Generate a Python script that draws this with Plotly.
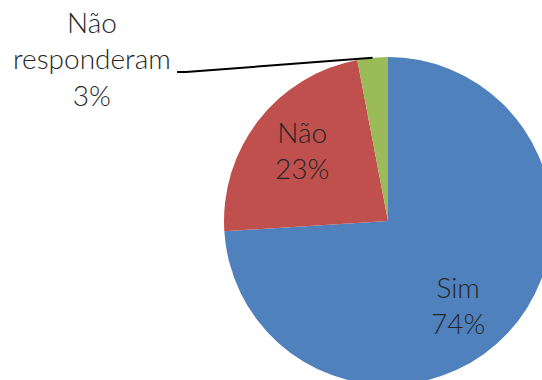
import math
import plotly.graph_objects as go

# Survey answers
labels = ["Sim", "Não", "Não responderam"]
values = [74, 23, 3]
colors = ["#4F81BD", "#C0504D", "#9BBB59"]

W, H = 560, 400
CX, CY, R = 388, 221, 164  # pie centre and radius in px


def px(x, y):
    return x / W, 1 - y / H


fig = go.Figure(
    go.Pie(
        labels=labels,
        values=values,
        marker=dict(colors=colors, line=dict(width=0)),
        sort=False,
        direction="clockwise",
        rotation=0,
        textinfo="none",
        hoverinfo="label+percent",
        showlegend=False,
        domain=dict(x=[(CX - R) / W, (CX + R) / W], y=[1 - (CY + R) / H, 1 - (CY - R) / H]),
    )
)

total = sum(values)
pct = [round(100 * v / total) for v in values]
font = dict(family="Lato, 'Open Sans', sans-serif", size=28, color="#262626", weight=300)


def label(tx, ty, text):
    ax_, ay_ = px(tx, ty)
    fig.add_annotation(x=ax_, y=ay_, xref="paper", yref="paper", showarrow=False,
                       xanchor="center", yanchor="middle",
                       text=text, font=font, align="center")


# In-slice labels
label(458, 305, f"{labels[0]}<br>{pct[0]}%")
label(302, 150, f"{labels[1]}<br>{pct[1]}%")

# Outside label for the small slice
label(92, 58, f"{labels[2].replace(' ', '<br>')}<br>{pct[2]}%")

# Leader line to the middle of the small slice
mid = (sum(values[:2]) + values[2] / 2) / total * 2 * math.pi
ex, ey = CX + R * math.sin(mid), CY - R * math.cos(mid)
p0, p1, p2 = px(177, 72), px(186, 72), px(ex, ey)
fig.add_shape(type="path", xref="paper", yref="paper",
              path=f"M {p0[0]},{p0[1]} L {p1[0]},{p1[1]} L {p2[0]},{p2[1]}",
              line=dict(color="black", width=2))

fig.update_layout(width=W, height=H, margin=dict(l=0, r=0, t=0, b=0),
                  paper_bgcolor="white", plot_bgcolor="white")

fig.write_html("out.html", post_script="document.body.style.margin='0';document.body.style.overflow='hidden';document.documentElement.style.overflow='hidden';")
